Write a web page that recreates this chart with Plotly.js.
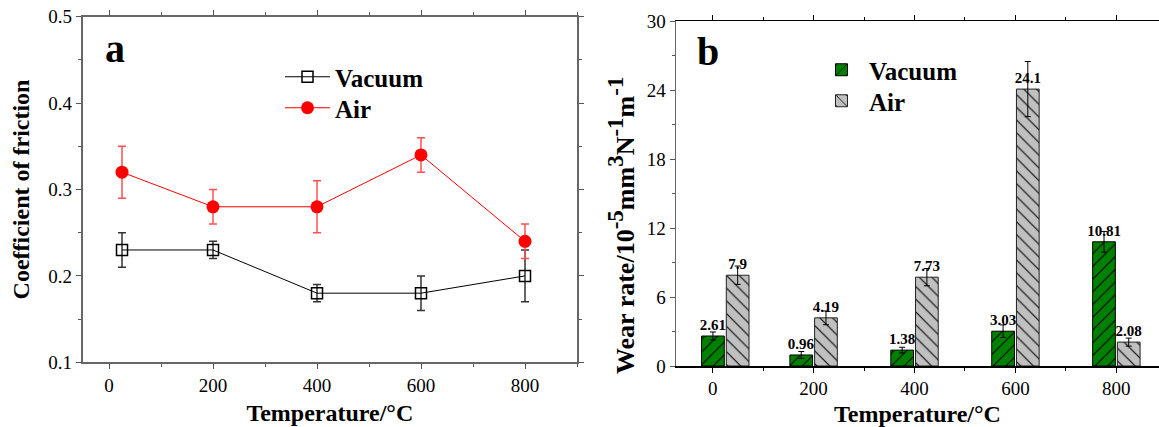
<!DOCTYPE html>
<html>
<head>
<meta charset="utf-8">
<script src="https://cdn.plot.ly/plotly-3.0.1.min.js"></script>
<style>html,body{margin:0;padding:0;background:#fff;}#chart{width:1159px;height:427px;}</style>
</head>
<body>
<div id="chart"></div>
<script>
// ---- Panel a: coefficient of friction ----
const tempA = [25, 200, 400, 600, 800];
const cofVacuum = [0.23, 0.23, 0.18, 0.18, 0.20];
const cofVacuumErr = [0.02, 0.01, 0.01, 0.02, 0.03];
const cofAir = [0.32, 0.28, 0.28, 0.34, 0.24];
const cofAirErr = [0.03, 0.02, 0.03, 0.02, 0.02];

// ---- Panel b: wear rate ----
const tempB = [25, 200, 400, 600, 800];
const wearVacuum = [2.61, 0.96, 1.38, 3.03, 10.81];
const wearVacuumErr = [0.35, 0.3, 0.25, 0.55, 0.9];
const wearAir = [7.9, 4.19, 7.73, 24.1, 2.08];
const wearAirErr = [0.8, 0.6, 0.75, 2.4, 0.35];

const xTicks = [0, 200, 400, 600, 800];
const yTicksA = [0.1, 0.2, 0.3, 0.4, 0.5];
const yTicksB = [0, 6, 12, 18, 24, 30];

const FONT = 'Liberation Serif, DejaVu Serif, serif';
const W = 1159, H = 427;

const traces = [
  {
    x: tempA, y: cofVacuum, name: 'Vacuum', type: 'scatter', mode: 'lines+markers',
    xaxis: 'x', yaxis: 'y', legend: 'legend',
    line: {color: '#000', width: 1},
    marker: {symbol: 'square-open', size: 11, color: '#000', line: {width: 1.5, color: '#000'}},
    error_y: {type: 'data', array: cofVacuumErr, visible: true, color: '#333', thickness: 1.5, width: 4}
  },
  {
    x: tempA, y: cofAir, name: 'Air', type: 'scatter', mode: 'lines+markers',
    xaxis: 'x', yaxis: 'y', legend: 'legend2',
    line: {color: '#ff0000', width: 1},
    marker: {symbol: 'circle', size: 13, color: '#ff0000'},
    error_y: {type: 'data', array: cofAirErr, visible: true, color: '#ff5050', thickness: 1.5, width: 4}
  },
  {
    x: tempB, y: wearVacuum, name: 'Vacuum', type: 'bar',
    xaxis: 'x2', yaxis: 'y2', legend: 'legend3',
    width: 45, offset: -47,
    marker: {color: '#008000', line: {color: '#000', width: 1},
             pattern: {shape: '/', fgcolor: '#000', bgcolor: '#008000', size: 9, solidity: 0.12, fillmode: 'replace'}},
    error_y: {type: 'data', array: wearVacuumErr, visible: true, color: '#000', thickness: 1, width: 3},
    texttemplate: '%{y}', textposition: 'outside', cliponaxis: false, constraintext: 'none',
    textfont: {family: FONT, size: 15, color: '#000', weight: 'bold'}
  },
  {
    x: tempB, y: wearAir, name: 'Air', type: 'bar',
    xaxis: 'x2', yaxis: 'y2', legend: 'legend4',
    width: 45, offset: 2,
    marker: {color: '#c0c0c0', line: {color: '#222', width: 1},
             pattern: {shape: '\\', fgcolor: '#000', bgcolor: '#c0c0c0', size: 9, solidity: 0.12, fillmode: 'replace'}},
    error_y: {type: 'data', array: wearAirErr, visible: true, color: '#000', thickness: 1, width: 3},
    texttemplate: '%{y}', textposition: 'outside', cliponaxis: false, constraintext: 'none',
    textfont: {family: FONT, size: 15, color: '#000', weight: 'bold'}
  }
];

const tickFont = {family: FONT, size: 19, color: '#000'};
const titleFont = {family: FONT, size: 24, color: '#000', weight: 'bold'};
const legendFont = {family: FONT, size: 25, color: '#000', weight: 'bold'};

function legendAt(px, py) {
  return {x: px / W, y: 1 - py / H, xanchor: 'left', yanchor: 'middle',
          bgcolor: 'rgba(0,0,0,0)', itemwidth: 45, font: legendFont};
}

const sup = s => '<sup><span style="font-size:23px">' + s + '</span></sup>';

const layout = {
  width: W, height: H,
  margin: {l: 0, r: 0, t: 0, b: 0},
  paper_bgcolor: '#fff', plot_bgcolor: '#fff',
  font: {family: FONT, color: '#000'},
  showlegend: true,
  bargap: 0,
  xaxis: {
    domain: [82.7 / W, 577 / W], range: [-50.6, 900], anchor: 'y',
    tickvals: xTicks, ticks: 'outside', ticklen: 5, tickwidth: 1, tickcolor: '#555',
    minor: {dtick: 100, ticks: 'outside', ticklen: 3, tickcolor: '#555'},
    showline: true, linecolor: '#666', linewidth: 2, mirror: 'ticks',
    showgrid: false, zeroline: false, tickfont: tickFont,
    title: {text: 'Temperature/°C', font: titleFont, standoff: 9}
  },
  yaxis: {
    domain: [1 - 362.3 / H, 1 - 16.7 / H], range: [0.1, 0.5], anchor: 'x',
    tickvals: yTicksA, ticktext: yTicksA.map(v => v.toFixed(1)),
    ticks: 'outside', ticklen: 5, tickwidth: 1, tickcolor: '#555',
    minor: {dtick: 0.05, ticks: 'outside', ticklen: 3, tickcolor: '#555'},
    showline: true, linecolor: '#666', linewidth: 2, mirror: 'ticks',
    showgrid: false, zeroline: false, tickfont: tickFont,
    title: {text: 'Coefficient of friction', font: titleFont, standoff: 12}
  },
  xaxis2: {
    domain: [676 / W, 1], range: [-72.7, 884.5], anchor: 'y2',
    tickvals: xTicks, ticks: 'outside', ticklen: 5, tickwidth: 1, tickcolor: '#000',
    minor: {dtick: 100, ticks: 'outside', ticklen: 3, tickcolor: '#000'},
    showline: true, linecolor: '#000', linewidth: 1.5, mirror: 'ticks',
    showgrid: false, zeroline: false, tickfont: tickFont,
    title: {text: 'Temperature/°C', font: titleFont, standoff: 9}
  },
  yaxis2: {
    domain: [1 - 366 / H, 1 - 21.3 / H], range: [0, 30], anchor: 'x2',
    tickvals: yTicksB, ticks: 'outside', ticklen: 5, tickwidth: 1, tickcolor: '#555',
    minor: {dtick: 3, ticks: 'outside', ticklen: 3, tickcolor: '#555'},
    showline: true, linecolor: '#666', linewidth: 1.5, mirror: false,
    showgrid: false, zeroline: false, tickfont: tickFont
  },
  legend: legendAt(280, 77),
  legend2: legendAt(280, 108),
  legend3: legendAt(814, 70),
  legend4: legendAt(814, 101),
  annotations: [
    {text: 'a', xref: 'paper', yref: 'paper', x: 115 / W, y: 1 - 48 / H, xanchor: 'center', yanchor: 'middle',
     showarrow: false, font: {family: FONT, size: 40, color: '#000', weight: 'bold'}},
    {text: 'b', xref: 'paper', yref: 'paper', x: 708 / W, y: 1 - 51 / H, xanchor: 'center', yanchor: 'middle',
     showarrow: false, font: {family: FONT, size: 40, color: '#000', weight: 'bold'}},
    {text: 'Wear rate/10' + sup('-5') + 'mm' + sup('3') + 'N' + sup('-1') + 'm' + sup('-1'),
     xref: 'paper', yref: 'paper', x: 621 / W, y: 1 - 226 / H, xanchor: 'center', yanchor: 'middle',
     textangle: -90, showarrow: false, font: {family: FONT, size: 26, color: '#000', weight: 'bold'}}
  ]
};

Plotly.newPlot('chart', traces, layout, {staticPlot: true, displayModeBar: false});
</script>
</body>
</html>
